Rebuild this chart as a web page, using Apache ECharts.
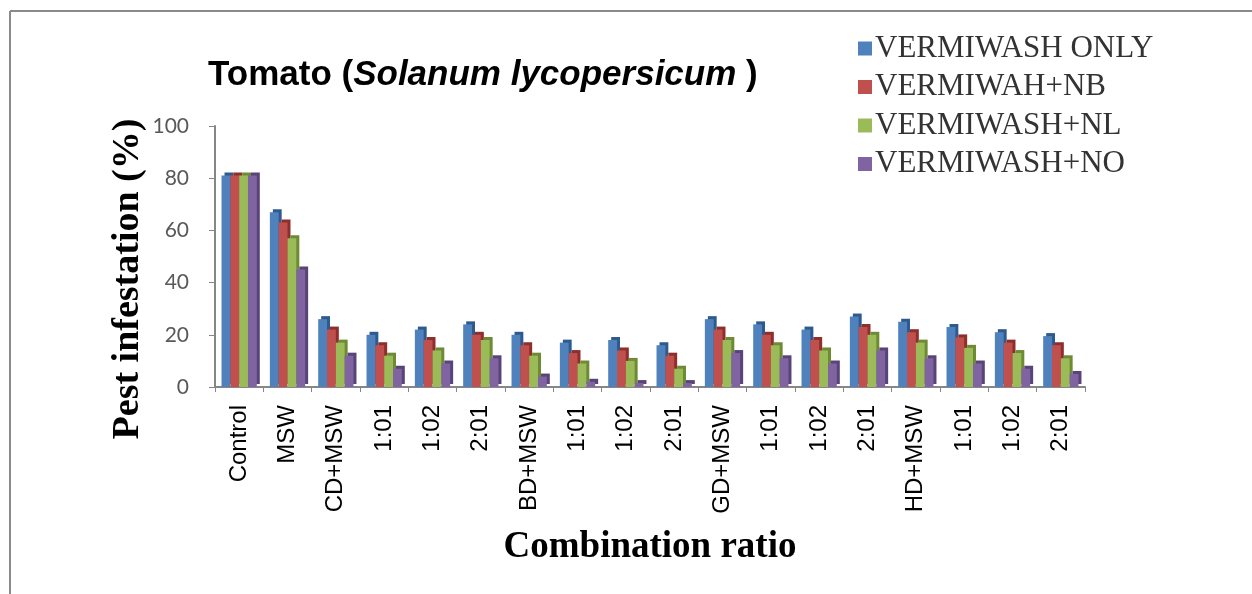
<!DOCTYPE html>
<html>
<head>
<meta charset="utf-8">
<script src="https://cdn.jsdelivr.net/npm/echarts@6/dist/echarts.min.js"></script>
<style>
html,body{margin:0;padding:0;background:#fff;}
#chart{width:1252px;height:594px;}
</style>
</head>
<body>
<div id="chart"></div>
<script>
const categories = ["Control","MSW","CD+MSW","1:01","1:02","2:01","BD+MSW","1:01","1:02","2:01","GD+MSW","1:01","1:02","2:01","HD+MSW","1:01","1:02","2:01"];
const seriesNames = ["VERMIWASH ONLY","VERMIWAH+NB","VERMIWASH+NL","VERMIWASH+NO"];
const vermiwashOnly = [81, 67, 26, 20, 22, 24, 20, 17, 18, 16, 26, 24, 22, 27, 25, 23, 21, 19.5];
const vermiwashNB   = [81, 63, 22, 16, 18, 20, 16, 13, 14, 12, 22, 20, 18, 23, 21, 19, 17, 16];
const vermiwashNL   = [81, 57, 17, 12, 14, 18, 12, 9, 10, 7, 18, 16, 14, 20, 17, 15, 13, 11];
const vermiwashNO   = [81, 45, 12, 7, 9, 11, 4, 2, 1.5, 1.5, 13, 11, 9, 14, 11, 9, 7, 5];
const yTicks = [0, 20, 40, 60, 80, 100];

const colors = ["#4F81BD","#C0504D","#9BBB59","#8064A2"];
const darks  = ["#2E5A8E","#8E2F2C","#6E8A35","#584479"];
const allData = [vermiwashOnly, vermiwashNB, vermiwashNL, vermiwashNO];

const chart = echarts.init(document.getElementById('chart'));
chart.setOption({
  animation: false,
  backgroundColor: '#fff',
  title: {
    text: '{n|Tomato (}{i|Solanum lycopersicum}{n| )}',
    left: 203, top: 53,
    textStyle: {
      rich: {
        n: {fontFamily: 'Liberation Sans, Arial', fontWeight: 'bold', fontSize: 35, color: '#000'},
        i: {fontFamily: 'Liberation Sans, Arial', fontWeight: 'bold', fontStyle: 'italic', fontSize: 35, color: '#000'}
      }
    }
  },
  legend: {
    orient: 'vertical',
    left: 853, top: 28,
    itemWidth: 14, itemHeight: 14, itemGap: 7.5,
    icon: 'rect',
    data: seriesNames,
    textStyle: {fontFamily: 'Liberation Serif, Times New Roman', fontSize: 31, color: '#333', lineHeight: 31, padding: [0,0,0,-2]}
  },
  grid: {left: 215, right: 167, top: 126, bottom: 207, containLabel: false},
  xAxis: {
    type: 'category',
    data: categories,
    name: 'Combination ratio',
    nameLocation: 'middle',
    nameGap: 142,
    nameTextStyle: {fontFamily: 'Liberation Serif, Times New Roman', fontWeight: 'bold', fontSize: 37, color: '#000'},
    axisLine: {lineStyle: {color: '#868686', width: 2}},
    axisTick: {show: true, alignWithLabel: false, length: 5, lineStyle: {color: '#868686'}},
    axisLabel: {rotate: 90, interval: 0, margin: 18, fontFamily: 'Liberation Sans, Arial', fontSize: 24, color: '#000'}
  },
  yAxis: {
    type: 'value',
    min: 0, max: 100, interval: 20,
    axisLine: {show: true, lineStyle: {color: '#868686', width: 2}},
    axisTick: {show: true, inside: false, length: 6, lineStyle: {color: '#868686'}},
    splitLine: {show: false},
    axisLabel: {margin: 26, fontFamily: 'Lato, Liberation Sans', fontSize: 21, color: '#595959',
      formatter: function (v) { return yTicks.indexOf(v) >= 0 ? String(v) : ''; }}
  },
  graphic: [
    {type: 'line', shape: {x1: 10, y1: 11, x2: 1252, y2: 11}, style: {stroke: '#8a8a8a', lineWidth: 2}},
    {type: 'line', shape: {x1: 10, y1: 11, x2: 10, y2: 594}, style: {stroke: '#8a8a8a', lineWidth: 2}},
    {type: 'text', x: 128, y: 279, rotation: Math.PI/2,
      style: {text: 'Pest infestation (%)', font: 'bold 38px "Liberation Serif", "Times New Roman"', fill: '#000', textAlign: 'center', textVerticalAlign: 'middle'}}
  ],
  series: allData.map(function (d, i) {
    return {
      name: seriesNames[i],
      type: 'bar',
      data: d,
      barGap: '0%',
      barCategoryGap: '27%',
      itemStyle: {color: colors[i], shadowColor: darks[i], shadowOffsetX: 3, shadowOffsetY: -3, shadowBlur: 0},
      emphasis: {disabled: true}
    };
  })
});
</script>
</body>
</html>
